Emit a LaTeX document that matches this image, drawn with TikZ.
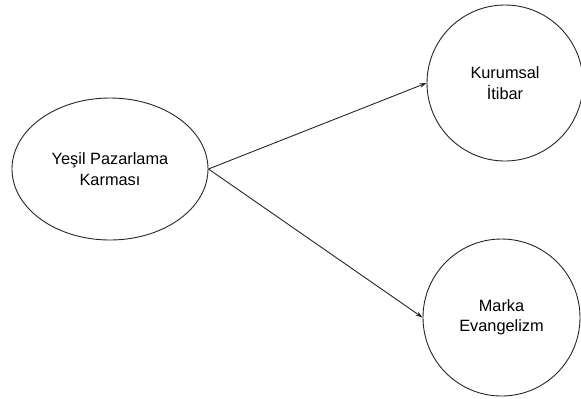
\documentclass[tikz,border=0pt]{standalone}
\usepackage{fontspec}
\setmainfont{Liberation Sans}
\usetikzlibrary{shapes.geometric,arrows.meta}
\begin{document}
\begin{tikzpicture}[x=1bp,y=-1bp,
  bubble/.style={draw=black!85, line width=0.9bp, inner sep=0pt, align=center,
    font=\fontsize{16.4}{20.5}\selectfont},
  arr/.style={draw=black!85, line width=0.9bp, -{Stealth[length=7bp,width=4.5bp]}}]
\useasboundingbox (0,0) rectangle (581,398);
\node[bubble, ellipse, minimum width=196bp, minimum height=142bp] (g) at (110,169) {Yeşil Pazarlama\\Karması};
\node[bubble, circle, minimum size=156bp] (k) at (505,83) {Kurumsal\\İtibar};
\node[bubble, circle, minimum size=157bp] (m) at (501.5,317.5) {Marka\\Evangelizm};
\draw[arr] (g.east) -- (k.west);
\draw[arr] (g.east) -- (m.west);
\end{tikzpicture}
\end{document}
